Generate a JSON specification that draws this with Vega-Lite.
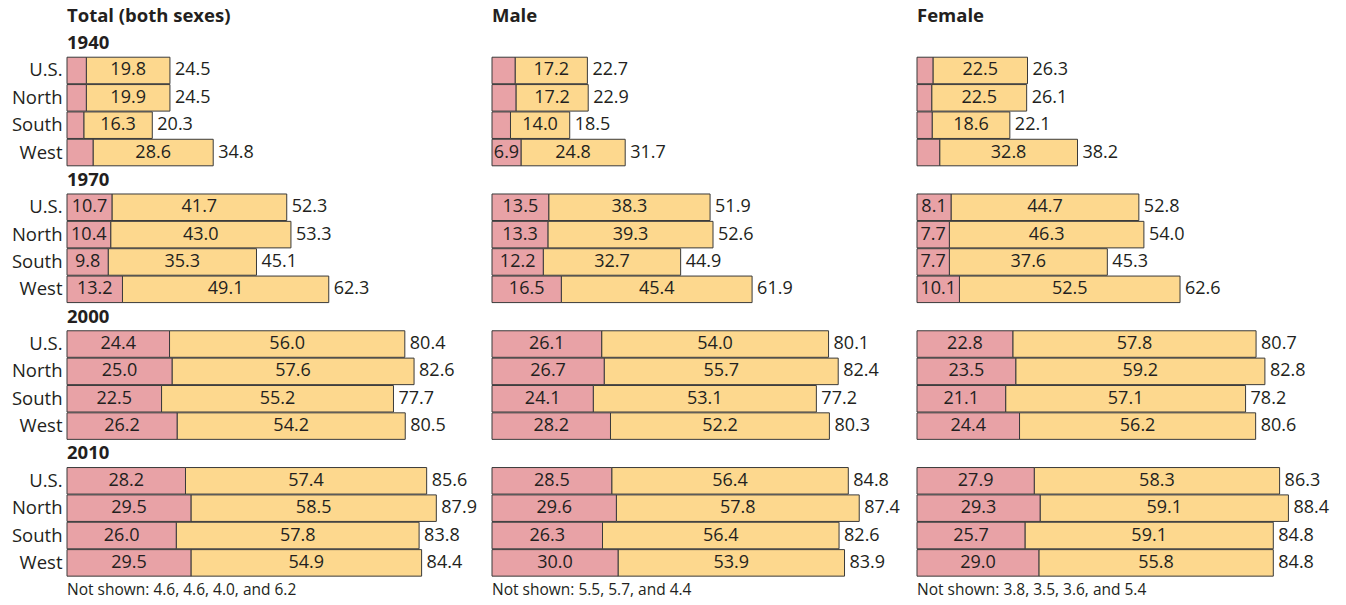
{
  "$schema": "https://vega.github.io/schema/vega-lite/v6.json",
  "padding": {"left": 5, "top": 2.5, "right": 0, "bottom": 0},
  "background": "white",
  "bounds": "flush",
  "config": {
    "view": {"stroke": null},
    "font": "Open Sans",
    "text": {"font": "Open Sans", "fontSize": 18, "fill": "#231f20"}
  },
  "data": {
    "values": [
      {"kind": "title", "sex": "Total (both sexes)", "row": "title", "label": "Total (both sexes)"},
      {"kind": "title", "sex": "Male", "row": "title", "label": "Male"},
      {"kind": "title", "sex": "Female", "row": "title", "label": "Female"},
      {"kind": "year", "sex": "Total (both sexes)", "row": "1940", "label": "1940"},
      {"kind": "year", "sex": "Total (both sexes)", "row": "1970", "label": "1970"},
      {"kind": "year", "sex": "Total (both sexes)", "row": "2000", "label": "2000"},
      {"kind": "year", "sex": "Total (both sexes)", "row": "2010", "label": "2010"},
      {"kind": "note", "sex": "Total (both sexes)", "row": "note", "label": "Not shown: 4.6, 4.6, 4.0, and 6.2"},
      {"kind": "note", "sex": "Male", "row": "note", "label": "Not shown: 5.5, 5.7, and 4.4"},
      {"kind": "note", "sex": "Female", "row": "note", "label": "Not shown: 3.8, 3.5, 3.6, and 5.4"},

      {"kind": "bar", "sex": "Total (both sexes)", "row": "1940 U.S.", "p": 4.6, "y": 19.8, "t": 24.5, "shown": false},
      {"kind": "bar", "sex": "Total (both sexes)", "row": "1940 North", "p": 4.6, "y": 19.9, "t": 24.5, "shown": false},
      {"kind": "bar", "sex": "Total (both sexes)", "row": "1940 South", "p": 4.0, "y": 16.3, "t": 20.3, "shown": false},
      {"kind": "bar", "sex": "Total (both sexes)", "row": "1940 West", "p": 6.2, "y": 28.6, "t": 34.8, "shown": false},
      {"kind": "bar", "sex": "Total (both sexes)", "row": "1970 U.S.", "p": 10.7, "y": 41.7, "t": 52.3, "shown": true},
      {"kind": "bar", "sex": "Total (both sexes)", "row": "1970 North", "p": 10.4, "y": 43.0, "t": 53.3, "shown": true},
      {"kind": "bar", "sex": "Total (both sexes)", "row": "1970 South", "p": 9.8, "y": 35.3, "t": 45.1, "shown": true},
      {"kind": "bar", "sex": "Total (both sexes)", "row": "1970 West", "p": 13.2, "y": 49.1, "t": 62.3, "shown": true},
      {"kind": "bar", "sex": "Total (both sexes)", "row": "2000 U.S.", "p": 24.4, "y": 56.0, "t": 80.4, "shown": true},
      {"kind": "bar", "sex": "Total (both sexes)", "row": "2000 North", "p": 25.0, "y": 57.6, "t": 82.6, "shown": true},
      {"kind": "bar", "sex": "Total (both sexes)", "row": "2000 South", "p": 22.5, "y": 55.2, "t": 77.7, "shown": true},
      {"kind": "bar", "sex": "Total (both sexes)", "row": "2000 West", "p": 26.2, "y": 54.2, "t": 80.5, "shown": true},
      {"kind": "bar", "sex": "Total (both sexes)", "row": "2010 U.S.", "p": 28.2, "y": 57.4, "t": 85.6, "shown": true},
      {"kind": "bar", "sex": "Total (both sexes)", "row": "2010 North", "p": 29.5, "y": 58.5, "t": 87.9, "shown": true},
      {"kind": "bar", "sex": "Total (both sexes)", "row": "2010 South", "p": 26.0, "y": 57.8, "t": 83.8, "shown": true},
      {"kind": "bar", "sex": "Total (both sexes)", "row": "2010 West", "p": 29.5, "y": 54.9, "t": 84.4, "shown": true},

      {"kind": "bar", "sex": "Male", "row": "1940 U.S.", "p": 5.5, "y": 17.2, "t": 22.7, "shown": false},
      {"kind": "bar", "sex": "Male", "row": "1940 North", "p": 5.7, "y": 17.2, "t": 22.9, "shown": false},
      {"kind": "bar", "sex": "Male", "row": "1940 South", "p": 4.4, "y": 14.0, "t": 18.5, "shown": false},
      {"kind": "bar", "sex": "Male", "row": "1940 West", "p": 6.9, "y": 24.8, "t": 31.7, "shown": true},
      {"kind": "bar", "sex": "Male", "row": "1970 U.S.", "p": 13.5, "y": 38.3, "t": 51.9, "shown": true},
      {"kind": "bar", "sex": "Male", "row": "1970 North", "p": 13.3, "y": 39.3, "t": 52.6, "shown": true},
      {"kind": "bar", "sex": "Male", "row": "1970 South", "p": 12.2, "y": 32.7, "t": 44.9, "shown": true},
      {"kind": "bar", "sex": "Male", "row": "1970 West", "p": 16.5, "y": 45.4, "t": 61.9, "shown": true},
      {"kind": "bar", "sex": "Male", "row": "2000 U.S.", "p": 26.1, "y": 54.0, "t": 80.1, "shown": true},
      {"kind": "bar", "sex": "Male", "row": "2000 North", "p": 26.7, "y": 55.7, "t": 82.4, "shown": true},
      {"kind": "bar", "sex": "Male", "row": "2000 South", "p": 24.1, "y": 53.1, "t": 77.2, "shown": true},
      {"kind": "bar", "sex": "Male", "row": "2000 West", "p": 28.2, "y": 52.2, "t": 80.3, "shown": true},
      {"kind": "bar", "sex": "Male", "row": "2010 U.S.", "p": 28.5, "y": 56.4, "t": 84.8, "shown": true},
      {"kind": "bar", "sex": "Male", "row": "2010 North", "p": 29.6, "y": 57.8, "t": 87.4, "shown": true},
      {"kind": "bar", "sex": "Male", "row": "2010 South", "p": 26.3, "y": 56.4, "t": 82.6, "shown": true},
      {"kind": "bar", "sex": "Male", "row": "2010 West", "p": 30.0, "y": 53.9, "t": 83.9, "shown": true},

      {"kind": "bar", "sex": "Female", "row": "1940 U.S.", "p": 3.8, "y": 22.5, "t": 26.3, "shown": false},
      {"kind": "bar", "sex": "Female", "row": "1940 North", "p": 3.5, "y": 22.5, "t": 26.1, "shown": false},
      {"kind": "bar", "sex": "Female", "row": "1940 South", "p": 3.6, "y": 18.6, "t": 22.1, "shown": false},
      {"kind": "bar", "sex": "Female", "row": "1940 West", "p": 5.4, "y": 32.8, "t": 38.2, "shown": false},
      {"kind": "bar", "sex": "Female", "row": "1970 U.S.", "p": 8.1, "y": 44.7, "t": 52.8, "shown": true},
      {"kind": "bar", "sex": "Female", "row": "1970 North", "p": 7.7, "y": 46.3, "t": 54.0, "shown": true},
      {"kind": "bar", "sex": "Female", "row": "1970 South", "p": 7.7, "y": 37.6, "t": 45.3, "shown": true},
      {"kind": "bar", "sex": "Female", "row": "1970 West", "p": 10.1, "y": 52.5, "t": 62.6, "shown": true},
      {"kind": "bar", "sex": "Female", "row": "2000 U.S.", "p": 22.8, "y": 57.8, "t": 80.7, "shown": true},
      {"kind": "bar", "sex": "Female", "row": "2000 North", "p": 23.5, "y": 59.2, "t": 82.8, "shown": true},
      {"kind": "bar", "sex": "Female", "row": "2000 South", "p": 21.1, "y": 57.1, "t": 78.2, "shown": true},
      {"kind": "bar", "sex": "Female", "row": "2000 West", "p": 24.4, "y": 56.2, "t": 80.6, "shown": true},
      {"kind": "bar", "sex": "Female", "row": "2010 U.S.", "p": 27.9, "y": 58.3, "t": 86.3, "shown": true},
      {"kind": "bar", "sex": "Female", "row": "2010 North", "p": 29.3, "y": 59.1, "t": 88.4, "shown": true},
      {"kind": "bar", "sex": "Female", "row": "2010 South", "p": 25.7, "y": 59.1, "t": 84.8, "shown": true},
      {"kind": "bar", "sex": "Female", "row": "2010 West", "p": 29.0, "y": 55.8, "t": 84.8, "shown": true}
    ]
  },
  "facet": {
    "column": {"field": "sex", "type": "nominal", "sort": ["Total (both sexes)", "Male", "Female"], "header": {"labels": false, "title": null, "labelPadding": 0, "titlePadding": 0}}
  },
  "spacing": 25,
  "spec": {
    "width": 400,
    "height": 601,
    "encoding": {
      "y": {
        "field": "row",
        "type": "nominal",
        "scale": {
          "domain": ["title", "1940", "1940 U.S.", "1940 North", "1940 South", "1940 West",
                     "1970", "1970 U.S.", "1970 North", "1970 South", "1970 West",
                     "2000", "2000 U.S.", "2000 North", "2000 South", "2000 West",
                     "2010", "2010 U.S.", "2010 North", "2010 South", "2010 West", "note"],
          "paddingInner": 0.03,
          "paddingOuter": 0
        },
        "axis": {
          "title": null,
          "domain": false,
          "ticks": false,
          "labelPadding": 5,
          "labelFont": "Open Sans",
          "labelFontSize": 18.5,
          "labelColor": "#231f20",
          "labelExpr": "indexof(datum.value, ' ') > 0 ? substring(datum.value, 5) : ''",
          "minExtent": 62,
          "maxExtent": 62
        }
      }
    },
    "layer": [
      {
        "transform": [{"filter": "datum.kind == 'bar'"}],
        "mark": {"type": "bar", "fill": "#FDD88E", "stroke": "#3a3a3a", "strokeWidth": 1},
        "encoding": {
          "x": {"field": "p", "type": "quantitative", "scale": {"domain": [0, 95.2], "nice": false, "zero": true}, "axis": null},
          "x2": {"field": "t"}
        }
      },
      {
        "transform": [{"filter": "datum.kind == 'bar'"}, {"calculate": "0", "as": "x0"}],
        "mark": {"type": "bar", "fill": "#E8A2A6", "stroke": "#3a3a3a", "strokeWidth": 1},
        "encoding": {
          "x": {"field": "x0", "type": "quantitative"},
          "x2": {"field": "p"}
        }
      },
      {
        "transform": [{"filter": "datum.kind == 'bar' && datum.shown"}, {"calculate": "datum.p / 2", "as": "mp"}],
        "mark": {"type": "text", "align": "center"},
        "encoding": {
          "x": {"field": "mp", "type": "quantitative"},
          "text": {"field": "p", "type": "quantitative", "format": ".1f"}
        }
      },
      {
        "transform": [{"filter": "datum.kind == 'bar'"}, {"calculate": "(datum.p + datum.t) / 2", "as": "my"}],
        "mark": {"type": "text", "align": "center"},
        "encoding": {
          "x": {"field": "my", "type": "quantitative"},
          "text": {"field": "y", "type": "quantitative", "format": ".1f"}
        }
      },
      {
        "transform": [{"filter": "datum.kind == 'bar'"}],
        "mark": {"type": "text", "align": "left", "dx": 5},
        "encoding": {
          "x": {"field": "t", "type": "quantitative"},
          "text": {"field": "t", "type": "quantitative", "format": ".1f"}
        }
      },
      {
        "transform": [{"filter": "datum.kind == 'title'"}, {"calculate": "0", "as": "x0"}],
        "mark": {"type": "text", "align": "left", "fontWeight": "bold", "fontSize": 18.5},
        "encoding": {
          "x": {"field": "x0", "type": "quantitative"},
          "text": {"field": "label", "type": "nominal"}
        }
      },
      {
        "transform": [{"filter": "datum.kind == 'year'"}, {"calculate": "0", "as": "x0"}],
        "mark": {"type": "text", "align": "left", "fontWeight": "bold", "fontSize": 18.5},
        "encoding": {
          "x": {"field": "x0", "type": "quantitative"},
          "text": {"field": "label", "type": "nominal"}
        }
      },
      {
        "transform": [{"filter": "datum.kind == 'note'"}, {"calculate": "0", "as": "x0"}],
        "mark": {"type": "text", "align": "left", "fontSize": 15.5},
        "encoding": {
          "x": {"field": "x0", "type": "quantitative"},
          "text": {"field": "label", "type": "nominal"}
        }
      }
    ]
  }
}
